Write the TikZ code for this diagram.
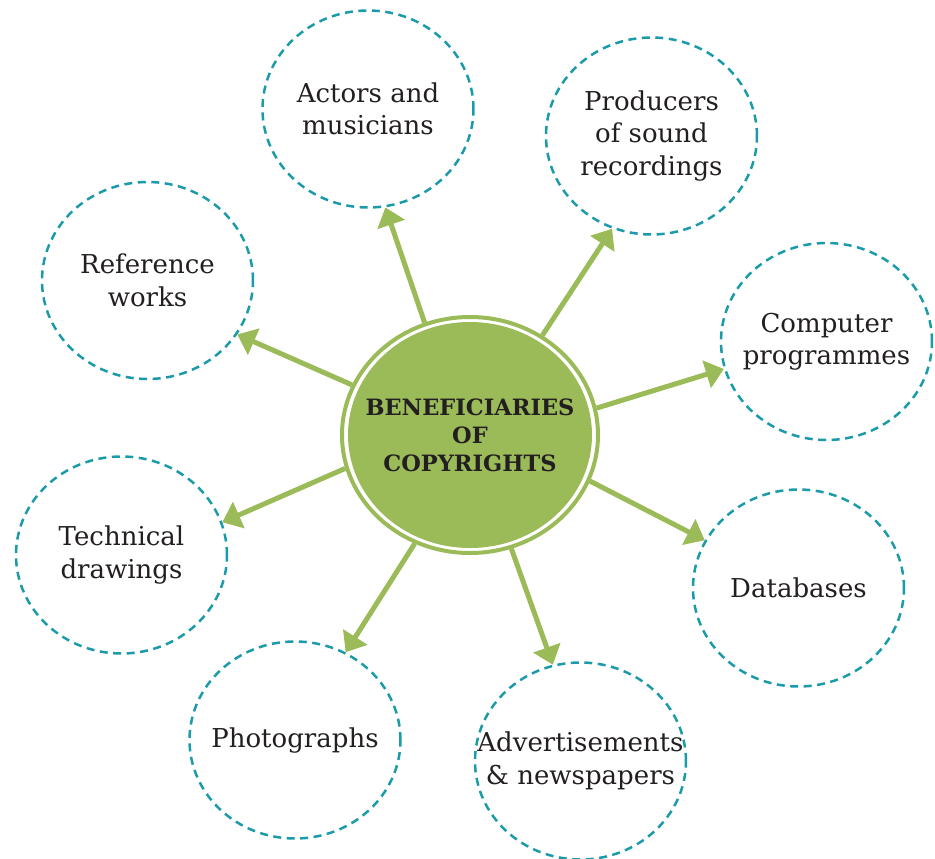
\documentclass[tikz,border=0pt]{standalone}
\usepackage{fontspec}
\setmainfont{DejaVu Serif}
\usetikzlibrary{arrows.meta,shapes.geometric}

\definecolor{leafGreen}{RGB}{155,187,89}
\definecolor{dashTeal}{RGB}{27,155,170}
\definecolor{inkText}{RGB}{35,31,32}

\begin{document}
\begin{tikzpicture}[
    font=\fontsize{14.8pt}{18.5pt}\selectfont,
    text=inkText,
    benefitNode/.style={
        ellipse,
        draw=dashTeal,
        line width=0.05cm,
        dash pattern=on 0.16cm off 0.11cm,
        inner sep=0pt,
        minimum width=4.22cm,
        minimum height=3.94cm
    },
    benefitText/.style={
        align=center,
        inner sep=0pt
    },
    hubFill/.style={
        ellipse,
        fill=leafGreen,
        inner sep=0pt,
        minimum width=4.88cm,
        minimum height=4.52cm
    },
    hubText/.style={
        align=center,
        inner sep=0pt,
        font=\fontsize{12.8pt}{15.9pt}\selectfont\bfseries
    },
    hubRing/.style={
        ellipse,
        draw=leafGreen,
        line width=0.08cm,
        inner sep=0pt,
        minimum width=5.12cm,
        minimum height=4.72cm
    },
    spokeArrow/.style={
        draw=leafGreen,
        line width=0.1cm,
        -{Triangle[length=0.36cm,width=0.56cm]}
    }
]
\useasboundingbox (-9.40,-8.46) rectangle (9.30,8.70);

% ==================== CENTRE ====================
\node[hubFill] (hubIn) at (0, 0) {};
\node[hubRing] (hub) at (0, 0) {};
\node[hubText] (hubLabel) at (hub.center) {BENEFICIARIES\\OF\\COPYRIGHTS};

% ==================== BENEFICIARIES ====================
\node[benefitNode] (actorsMus) at (-2.04, 6.52) {};
\node[benefitNode] (producers) at (3.63, 5.98) {};
\node[benefitNode] (compProg) at (7.13, 1.87) {};
\node[benefitNode] (databases) at (6.57, -3.06) {};
\node[benefitNode] (adverts) at (2.21, -6.52) {};
\node[benefitNode] (photos) at (-3.50, -6.10) {};
\node[benefitNode] (techDraw) at (-6.97, -2.40) {};
\node[benefitNode] (refWorks) at (-6.45, 3.09) {};

\node[benefitText] at (actorsMus.center) {Actors and\\musicians};
\node[benefitText] at (producers.center) {Producers\\of sound\\recordings};
\node[benefitText] at (compProg.center) {Computer\\programmes};
\node[benefitText] at (databases.center) {Databases};
\node[benefitText] at (adverts.center) {Advertisements\\\& newspapers};
\node[benefitText] at (photos.center) {Photographs};
\node[benefitText] at (techDraw.center) {Technical\\drawings};
\node[benefitText] at (refWorks.center) {Reference\\works};

% ==================== SPOKES ====================
\draw[spokeArrow] (hub.112) -- (actorsMus.280);
\draw[spokeArrow] (hub.54) -- (producers.247);
\draw[spokeArrow] (hub.12) -- (compProg.195);
\draw[spokeArrow] (hub.339) -- (databases.153);
\draw[spokeArrow] (hub.290) -- (adverts.106);
\draw[spokeArrow] (hub.243) -- (photos.60);
\draw[spokeArrow] (hub.195) -- (techDraw.18);
\draw[spokeArrow] (hub.157) -- (refWorks.329);

\end{tikzpicture}
\end{document}
